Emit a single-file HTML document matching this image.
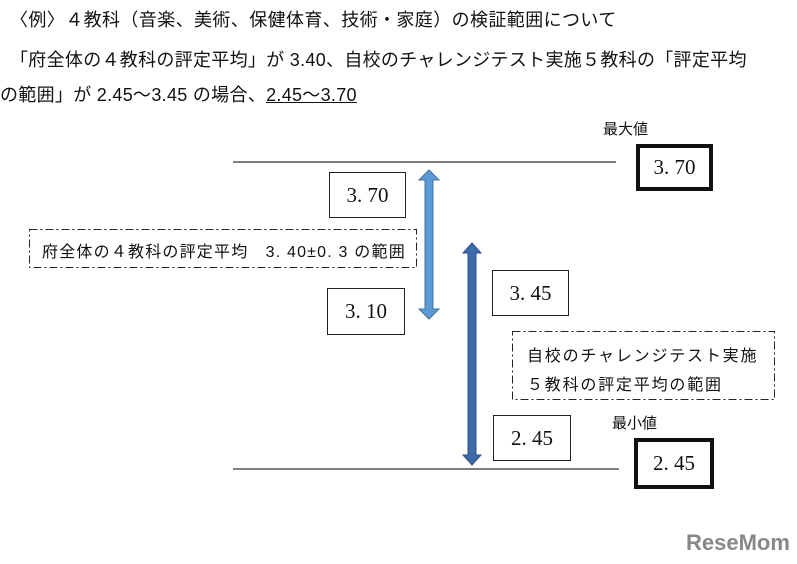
<!DOCTYPE html>
<html><head><meta charset="utf-8"><style>
body{margin:0;width:797px;height:564px;background:#fff;overflow:hidden;position:relative;font-family:"Liberation Sans","Noto Sans CJK JP",sans-serif;color:#111}
.t{position:absolute;font-size:18px;white-space:nowrap;line-height:1;letter-spacing:0.4px}
.b{position:absolute;border:1.3px solid #222;box-sizing:border-box;font-family:"Liberation Serif","Noto Serif CJK SC",serif;font-size:21px;display:flex;align-items:center;justify-content:center;white-space:pre}
.bb{border:4px solid #111}
.d{position:absolute;box-sizing:border-box;font-size:16px;white-space:nowrap;font-family:"Liberation Sans","Noto Sans CJK JP",sans-serif}
</style></head><body>
<div class="t" style="left:10px;top:11px">〈例〉４教科（音楽、美術、保健体育、技術・家庭）の検証範囲について</div>
<div class="t" style="left:10px;top:51px;letter-spacing:0.3px">「府全体の４教科の評定平均」が 3.40、自校のチャレンジテスト実施５教科の「評定平均</div>
<div class="t" style="left:0px;top:86px;letter-spacing:0.3px">の範囲」が 2.45～3.45 の場合、<span style="text-decoration:underline">2.45～3.70</span></div>
<div class="t" style="left:603px;top:122px;font-size:15px;letter-spacing:0">最大値</div>
<div class="t" style="left:612px;top:416px;font-size:15px;letter-spacing:0">最小値</div>
<div class="b bb" style="left:636px;top:144px;width:77px;height:47px">3. 70</div>
<div class="b bb" style="left:634px;top:438px;width:80px;height:51px">2. 45</div>
<div class="b" style="left:329px;top:172px;width:77px;height:46px">3. 70</div>
<div class="b" style="left:327px;top:288px;width:78px;height:47px">3. 10</div>
<div class="b" style="left:492px;top:270px;width:77px;height:46px">3. 45</div>
<div class="b" style="left:493px;top:415px;width:78px;height:46px">2. 45</div>
<svg width="797" height="564" style="position:absolute;left:0;top:0">
<line x1="233" y1="162" x2="616" y2="162" stroke="#333" stroke-width="1.3"/>
<line x1="233" y1="469" x2="619" y2="469" stroke="#333" stroke-width="1.3"/>
<rect x="29.5" y="229.5" width="387" height="38" fill="none" stroke="#222" stroke-dasharray="8,3,2,3"/>
<rect x="512.5" y="331.5" width="262" height="68" fill="none" stroke="#222" stroke-dasharray="8,3,2,3"/>
<polygon points="429,170 439,180 433,180 433,309 439,309 429,319 419,309 425,309 425,180 419,180" fill="#5b9bd5" stroke="#41719c"/>
<polygon points="472,243 481,253 476,253 476,455 481,455 472,465 463,455 468,455 468,253 463,253" fill="#3d6aa8" stroke="#2f528f"/>
</svg>
<div class="d" style="left:42px;top:238px;letter-spacing:1.2px">府全体の４教科の評定平均　3. 40±0. 3 の範囲</div>
<div class="d" style="left:527px;top:342px;letter-spacing:1.8px">自校のチャレンジテスト実施</div>
<div class="d" style="left:527px;top:371px;letter-spacing:1.8px">５教科の評定平均の範囲</div>
<div style="position:absolute;left:686px;top:530px;font:bold 22px 'Liberation Sans',sans-serif;color:#888">ReseMom</div>
</body></html>
